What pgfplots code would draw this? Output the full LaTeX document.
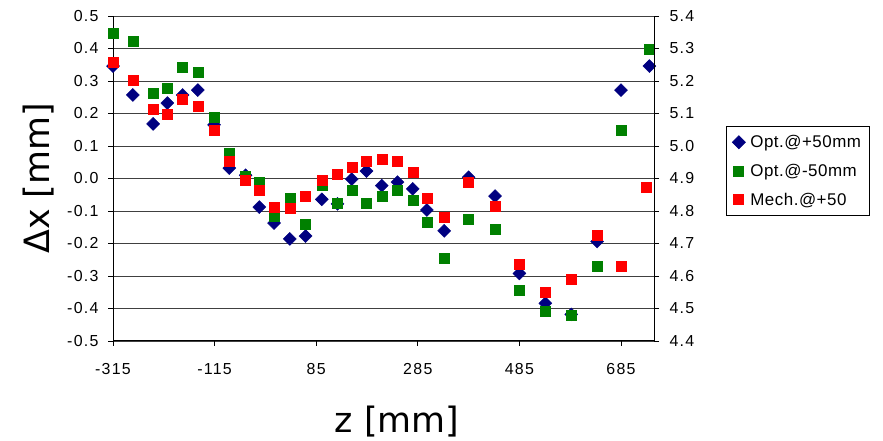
\documentclass[border=0pt]{standalone}
\usepackage{pgfplots}
\pgfplotsset{compat=1.18}
\usepackage{fontspec}
\setmainfont{Liberation Sans}
\newfontfamily\labelfont{DejaVu Sans}

\definecolor{optplus}{RGB}{0,0,128}
\definecolor{optminus}{RGB}{0,128,0}
\definecolor{mech}{RGB}{255,0,0}

% z [mm], dx [mm]
\pgfplotstableread{
x y
-315 0.346
-276 0.257
-236 0.168
-208 0.232
-178 0.257
-148 0.272
-116 0.165
-86 0.032
-54 0.010
-27 -0.088
2 -0.137
33 -0.186
64 -0.177
96 -0.064
127 -0.078
155 -0.002
184 0.023
214 -0.022
245 -0.011
275 -0.032
303 -0.097
337 -0.161
385 0.004
437 -0.054
485 -0.292
536 -0.384
587 -0.418
638 -0.194
685 0.272
741 0.346
}\optplus

\pgfplotstableread{
x y
-315 0.447
-276 0.423
-236 0.262
-208 0.278
-178 0.342
-148 0.327
-116 0.188
-86 0.078
-54 0.008
-27 -0.011
2 -0.115
33 -0.061
64 -0.141
96 -0.022
127 -0.076
155 -0.037
184 -0.076
214 -0.054
245 -0.037
275 -0.068
303 -0.133
337 -0.246
385 -0.125
437 -0.156
485 -0.343
536 -0.408
587 -0.422
638 -0.269
685 0.149
741 0.397
}\optminus

\pgfplotstableread{
x y
-315 0.357
-276 0.301
-236 0.213
-208 0.198
-178 0.245
-148 0.221
-116 0.149
-86 0.052
-54 -0.006
-27 -0.035
2 -0.087
33 -0.092
64 -0.053
96 -0.005
127 0.013
155 0.036
184 0.052
214 0.060
245 0.052
275 0.019
303 -0.061
337 -0.118
385 -0.011
437 -0.085
485 -0.263
536 -0.351
587 -0.310
638 -0.174
685 -0.271
735 -0.028
}\mech

\begin{document}
\begin{tikzpicture}[x=1bp,y=1bp]
\useasboundingbox (0,0) rectangle (883,441);
\pgfplotsset{
  common/.style={
    at={(113bp,100bp)}, anchor=south west,
    scale only axis, width=541bp, height=325bp,
    xmin=-315, xmax=750,
    tick align=outside, major tick length=5bp,
    tick style={black, line width=0.8bp},
    axis line style={black, line width=1bp},
    ticklabel style={font=\fontsize{16}{18}\selectfont\addfontfeature{LetterSpace=8}},
    /pgf/number format/assume math mode=true,
    clip=false,
  }
}
\begin{axis}[
  common,
  ymin=-0.5, ymax=0.5,
  axis x line*=bottom, axis y line*=left,
  xtick={-315,-115,85,285,485,685},
  xticklabel style={yshift=-14bp},
  ytick={-0.5,-0.4,...,0.5},
  yticklabel style={xshift=-6bp, /pgf/number format/.cd, fixed, fixed zerofill, precision=1},
  ymajorgrids, grid style={black!75, line width=0.9bp},
  xlabel={\labelfont\fontsize{35}{40}\selectfont z [mm]},
  xlabel style={at={(axis description cs:0.525,-0.283)}, anchor=base},
  ylabel={\labelfont\fontsize{35}{40}\selectfont Δx [mm]},
  ylabel style={at={(axis description cs:-0.1165,0.5)}, anchor=base, rotate=0},
  legend style={at={(axis description cs:1.133,0.6615)}, anchor=north west,
    draw=black, line width=0.8bp,
    font=\fontsize{17}{20}\selectfont\addfontfeature{LetterSpace=3},
    row sep=11bp, inner xsep=6bp, inner ysep=7bp},
  legend cell align=left,
]
\addplot[only marks, mark=square*, mark size=4.6bp, mark options={rotate=45}, color=optplus] table {\optplus};
\addlegendentry{\hspace*{3bp}Opt.@+50mm}
\addplot[only marks, mark=square*, mark size=5bp, color=optminus] table {\optminus};
\addlegendentry{\hspace*{3bp}Opt.@-50mm}
\addplot[only marks, mark=square*, mark size=5bp, color=mech] table {\mech};
\addlegendentry{\hspace*{3bp}Mech.@+50}
\end{axis}
\begin{axis}[
  common,
  ymin=4.4, ymax=5.4,
  axis x line=none, axis y line*=right,
  ytick={4.4,4.5,...,5.4},
  yticklabel style={xshift=7bp, /pgf/number format/.cd, fixed, fixed zerofill, precision=1},
]
\addplot[draw=none] coordinates {(-315,4.4) (750,5.4)};
\end{axis}
\end{tikzpicture}
\end{document}
